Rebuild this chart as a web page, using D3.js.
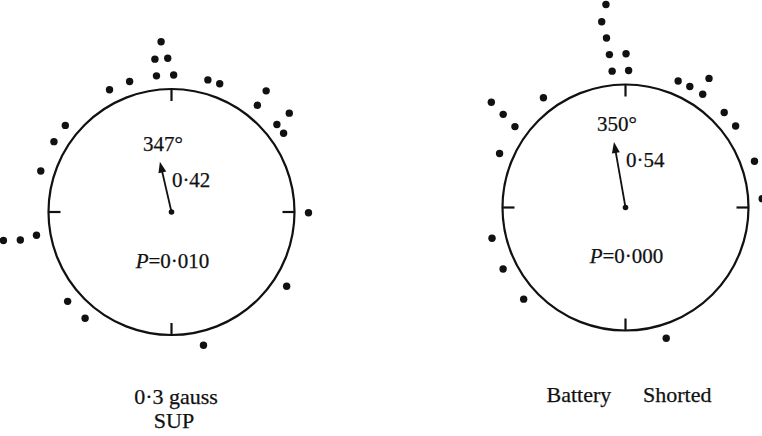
<!DOCTYPE html>
<html>
<head>
<meta charset="utf-8">
<script src="https://cdn.jsdelivr.net/npm/d3@7"></script>
<style>
  body { margin: 0; background: #fff; }
  text { font-family: "Liberation Serif", "Times New Roman", serif; fill: #111; stroke: #111; stroke-width: 0.25px; }
</style>
</head>
<body>
<div id="chart"></div>
<script>
// Panel values
let panelNames = ["0·3 gauss SUP", "Battery Shorted"];
let meanAngles = [347, 350];      // mean bearing, degrees
let meanLengths = [0.42, 0.54];   // mean vector length r
let pValues = [0.010, 0.000];

// Individual headings (bearing in degrees) and stack level outside the circle
let supBearings = [356.5, 353.8, 358.6, 353.7, 0.9, 342.2, 333.1, 15.4, 20.6, 38.0, 38.8, 50.0, 50.3,
                   54.9, 309.2, 300.9, 287.4, 90.3, 260.4, 259.5, 260.2, 229.3, 219.1, 122.8, 166.5];
let supLevels   = [3, 2, 2, 1, 1, 1, 1, 1, 1, 2, 1, 2, 1,
                   1, 1, 1, 1, 1, 3, 2, 1, 1, 1, 1, 1];
let shortBearings = [354.5, 352.7, 353.6, 354, 0.2, 354.4, 1.3, 323.2, 308.1, 307.3, 306.2, 293.2,
                     22.6, 28.0, 32.9, 34.3, 46.1, 53.5, 70.3, 86.3, 257, 243.3, 228, 162.7];
let shortLevels   = [5, 4, 3, 2, 2, 1, 1, 1, 3, 2, 1, 1,
                     1, 1, 2, 1, 1, 1, 1, 1, 1, 1, 1, 1];

let svgWidth = 762;
let svgHeight = 436;
let R = 123;

let svg = d3.select("#chart")
    .append("svg")
    .attr("width", svgWidth)
    .attr("height", svgHeight);

// Angle scale: bearing in degrees -> radians (clockwise from north, as pointRadial expects)
let angle = d3.scaleLinear().domain([0, 360]).range([0, 2 * Math.PI]);
// Stack level -> distance from centre
let levelRadius = d3.scaleLinear().domain([1, 5]).range([R + 14, R + 81]);
// Mean vector length -> distance from centre
let lengthRadius = d3.scaleLinear().domain([0, 1]).range([0, R]);

let fmt = v => d3.format(".3f")(v).replace(".", "·");

let panels = [
    { cx: 171.5, cy: 212, bearings: supBearings, levels: supLevels, idx: 0 },
    { cx: 625.5, cy: 207.5, bearings: shortBearings, levels: shortLevels, idx: 1 }
];

panels.forEach(function (p) {
    let g = svg.append("g").attr("transform", `translate(${p.cx}, ${p.cy})`);

    g.append("circle")
        .attr("r", R)
        .attr("fill", "none")
        .attr("stroke", "#111")
        .attr("stroke-width", 2.2);

    // Inward ticks at N, E, S, W
    g.selectAll("line.tick")
        .data([0, 90, 180, 270])
        .enter()
        .append("line")
        .attr("class", "tick")
        .attr("x1", d => d3.pointRadial(angle(d), R)[0])
        .attr("y1", d => d3.pointRadial(angle(d), R)[1])
        .attr("x2", d => d3.pointRadial(angle(d), R - 12)[0])
        .attr("y2", d => d3.pointRadial(angle(d), R - 12)[1])
        .attr("stroke", "#111")
        .attr("stroke-width", 2.2);

    // Headings
    let pts = p.bearings.map((b, i) => ({ b: b, lvl: p.levels[i] }));
    g.selectAll("circle.dot")
        .data(pts)
        .enter()
        .append("circle")
        .attr("class", "dot")
        .attr("cx", d => d3.pointRadial(angle(d.b), levelRadius(d.lvl))[0])
        .attr("cy", d => d3.pointRadial(angle(d.b), levelRadius(d.lvl))[1])
        .attr("r", 3.7)
        .attr("fill", "#111");

    // Mean vector
    let a = angle(meanAngles[p.idx]);
    let len = lengthRadius(meanLengths[p.idx]);
    let tip = d3.pointRadial(a, len);
    let shaftEnd = d3.pointRadial(a, len - 9);
    g.append("line")
        .attr("x1", 0).attr("y1", 0)
        .attr("x2", shaftEnd[0]).attr("y2", shaftEnd[1])
        .attr("stroke", "#111")
        .attr("stroke-width", 1.8);
    let baseL = d3.pointRadial(a, len - 11);
    let perp = [Math.cos(a) * 4, Math.sin(a) * 4];
    g.append("path")
        .attr("d", `M${tip[0]},${tip[1]}L${baseL[0] - perp[0]},${baseL[1] - perp[1]}L${baseL[0] + perp[0]},${baseL[1] + perp[1]}Z`)
        .attr("fill", "#111");
    g.append("circle").attr("r", 2.8).attr("fill", "#111");

    // Angle and length labels
    g.append("text")
        .attr("x", tip[0] + 3)
        .attr("y", tip[1] - 11)
        .attr("text-anchor", "middle")
        .style("font-size", "21px")
        .text(meanAngles[p.idx] + "°");
    g.append("text")
        .attr("x", tip[0] + 12)
        .attr("y", tip[1] + 25)
        .style("font-size", "21px")
        .text(String(meanLengths[p.idx]).replace(".", "·"));

    // P value
    let pt = g.append("text")
        .attr("x", 1)
        .attr("y", 55.5)
        .attr("text-anchor", "middle")
        .style("font-size", "21px");
    pt.append("tspan").style("font-style", "italic").text("P");
    pt.append("tspan").text("=" + fmt(pValues[p.idx]));
});

// Panel captions
let sup = panelNames[0].split(" ");
svg.append("text")
    .attr("x", 176).attr("y", 404)
    .attr("text-anchor", "middle")
    .style("font-size", "22px")
    .text(sup[0] + " " + sup[1]);
svg.append("text")
    .attr("x", 174).attr("y", 428)
    .attr("text-anchor", "middle")
    .style("font-size", "22px")
    .text(sup[2]);

let bat = panelNames[1].split(" ");
svg.append("text")
    .attr("x", 546.5).attr("y", 401.5)
    .style("font-size", "22px")
    .text(bat[0]);
svg.append("text")
    .attr("x", 643).attr("y", 401.5)
    .style("font-size", "22px")
    .text(bat[1]);
</script>
</body>
</html>
